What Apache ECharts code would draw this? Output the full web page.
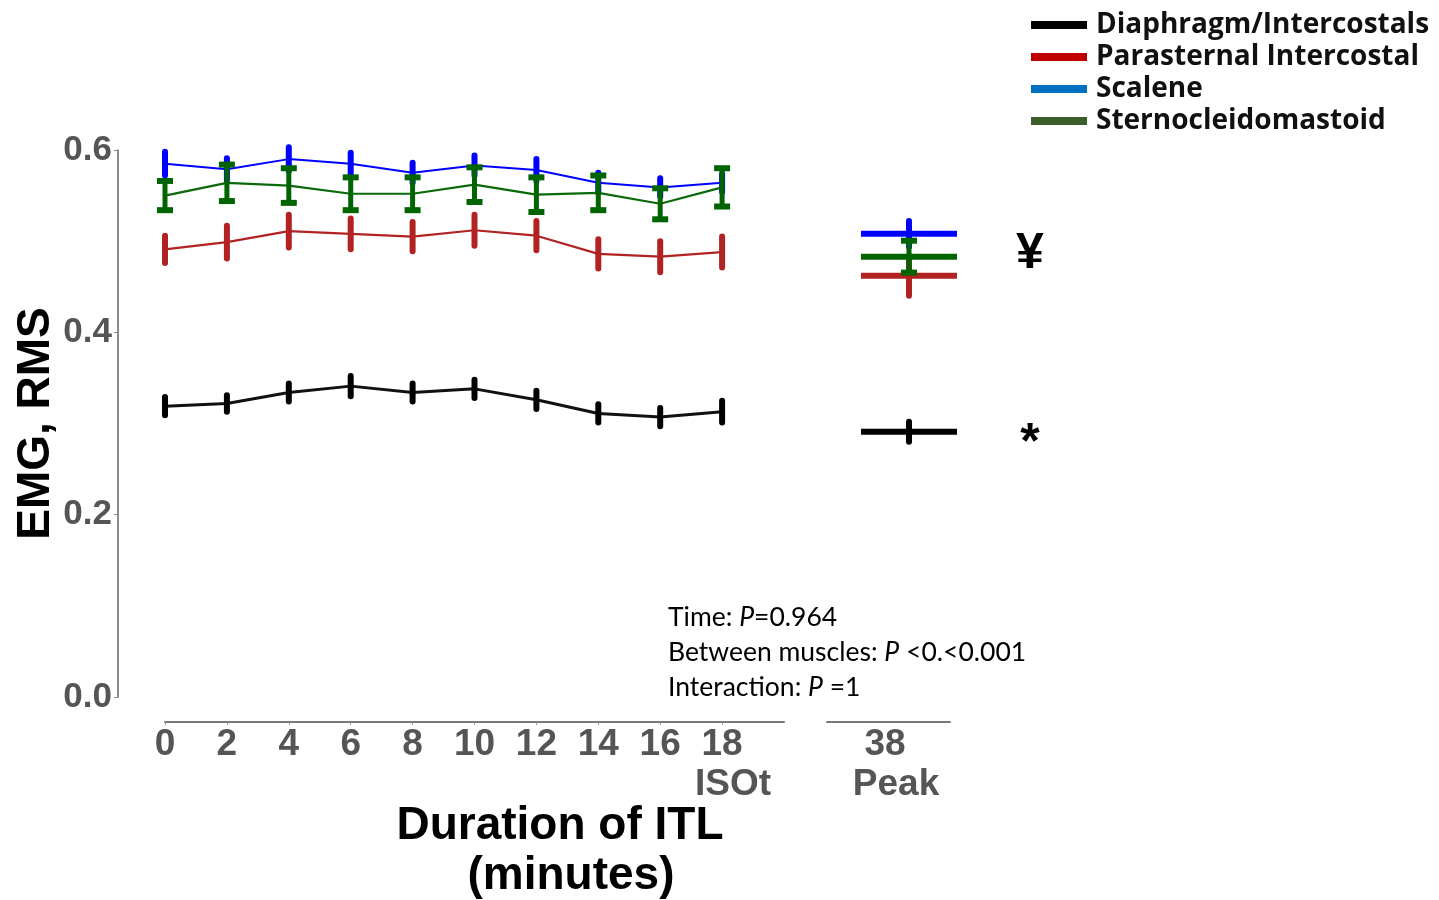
<!DOCTYPE html>
<html>
<head>
<meta charset="utf-8">
<script src="https://cdn.jsdelivr.net/npm/echarts@6/dist/echarts.min.js"></script>
<style>html,body{margin:0;padding:0;background:#fff}#c{width:1439px;height:900px}</style>
</head>
<body>
<div id="c"></div>
<script>
// ---- data ----
const timeMinutes = [0, 2, 4, 6, 8, 10, 12, 14, 16, 18];
const muscleNames = ['Diaphragm/Intercostals', 'Parasternal Intercostal', 'Scalene', 'Sternocleidomastoid'];
const diaphragm     = [0.319, 0.322, 0.334, 0.341, 0.334, 0.338, 0.326, 0.311, 0.307, 0.313];
const diaphragmSE   = [0.010, 0.009, 0.010, 0.011, 0.010, 0.010, 0.010, 0.010, 0.010, 0.012];
const parasternal   = [0.491, 0.499, 0.511, 0.508, 0.505, 0.512, 0.506, 0.486, 0.483, 0.488];
const parasternalSE = [0.015, 0.018, 0.018, 0.017, 0.016, 0.017, 0.016, 0.016, 0.017, 0.017];
const scalene       = [0.585, 0.579, 0.590, 0.585, 0.575, 0.583, 0.578, 0.564, 0.559, 0.564];
const scaleneSE     = [0.013, 0.012, 0.013, 0.012, 0.011, 0.011, 0.012, 0.011, 0.010, 0.010];
const sternocleido  = [0.550, 0.564, 0.561, 0.552, 0.552, 0.562, 0.551, 0.553, 0.541, 0.559];
const sternocleidoSE= [0.016, 0.020, 0.019, 0.018, 0.018, 0.019, 0.019, 0.019, 0.017, 0.021];
const isotMinute = 18;
const isotLabel = 'ISOt';
const peakMinute = 38;
const peakLabel = 'Peak';
const peakValues = [0.291, 0.462, 0.508, 0.483];
const peakSE     = [0.011, 0.022, 0.014, 0.0175];
const peakMarks  = ['*', '', '', '¥'];
const annotationLines = [
  ['Time: ', 'P', '=0.964'],
  ['Between muscles: ', 'P', ' <0.<0.001'],
  ['Interaction: ', 'P', ' =1']
];

// ---- styles ----
const lineColors = ['#111111', '#b22222', '#0000ff', '#0a690a'];
const barColors = ['#000000', '#b22222', '#0000ff', '#006400'];
const legendColors = ['#000000', '#c00000', '#0070c0', '#3b5e2b'];
const lineWidths = [3, 2.2, 2, 2.2];
const capHalf = [0, 0, 0, 8];
const means = [diaphragm, parasternal, scalene, sternocleido];
const ses = [diaphragmSE, parasternalSE, scaleneSE, sternocleidoSE];
const markOffsets = [13, 0, 0, -2];

function barChildren(top, bot, color, cap) {
  const ch = [{
    type: 'line',
    shape: { x1: top[0], y1: top[1], x2: bot[0], y2: bot[1] },
    style: { stroke: color, lineWidth: cap ? 5 : 6, lineCap: cap ? 'butt' : 'round' }
  }];
  if (cap) {
    [top, bot].forEach(p => ch.push({
      type: 'line',
      shape: { x1: p[0] - cap, y1: p[1], x2: p[0] + cap, y2: p[1] },
      style: { stroke: color, lineWidth: 6, lineCap: 'butt' }
    }));
  }
  return ch;
}

function errRender(idx) {
  return function (params, api) {
    const x = api.value(0), m = api.value(1), e = api.value(2);
    const top = api.coord([x, m + e]);
    const bot = api.coord([x, m - e]);
    return { type: 'group', children: barChildren(top, bot, barColors[idx], capHalf[idx]) };
  };
}

function peakRender(idx) {
  const color = barColors[idx];
  return function (params, api) {
    const x = api.value(0), m = api.value(1), e = api.value(2);
    const c = api.coord([x, m]);
    const top = api.coord([x, m + e]);
    const bot = api.coord([x, m - e]);
    const ch = [{
      type: 'line',
      shape: { x1: c[0] - 48, y1: c[1], x2: c[0] + 48, y2: c[1] },
      style: { stroke: color, lineWidth: 6 }
    }].concat(barChildren(top, bot, color, capHalf[idx]));
    if (peakMarks[idx]) {
      ch.push({
        type: 'text',
        style: {
          text: peakMarks[idx], x: c[0] + 121, y: c[1] + markOffsets[idx],
          align: 'center', verticalAlign: 'middle',
          font: 'bold 50px "Liberation Sans", Arial, sans-serif', fill: '#000'
        }
      });
    }
    return { type: 'group', children: ch };
  };
}

const series = [];
for (let i = 0; i < 4; i++) {
  series.push({
    name: muscleNames[i], type: 'line', xAxisIndex: 0, yAxisIndex: 0,
    data: timeMinutes.map((t, k) => [t, means[i][k]]),
    symbol: 'none', lineStyle: { color: lineColors[i], width: lineWidths[i] },
    itemStyle: { color: lineColors[i] }, z: 2 + i * 2, animation: false
  });
  series.push({
    name: muscleNames[i], type: 'custom', xAxisIndex: 0, yAxisIndex: 0,
    data: timeMinutes.map((t, k) => [t, means[i][k], ses[i][k]]),
    encode: { x: 0, y: 1 }, renderItem: errRender(i),
    z: 3 + i * 2, animation: false
  });
}
[1, 2, 3, 0].forEach(i => {
  series.push({
    name: muscleNames[i], type: 'custom', xAxisIndex: 1, yAxisIndex: 1,
    data: [[peakMinute, peakValues[i], peakSE[i]]],
    encode: { x: 0, y: 1 }, renderItem: peakRender(i), clip: false,
    z: 10 + i, animation: false
  });
});

const tickFont = { fontFamily: '"Liberation Sans", Arial, sans-serif', fontWeight: 'bold', fontSize: 37, color: '#555555', lineHeight: 40 };
const titleFont = { fontFamily: '"Liberation Sans", Arial, sans-serif', fontWeight: 'bold', fontSize: 46, color: '#000', lineHeight: 50 };

const option = {
  backgroundColor: '#ffffff',
  animation: false,
  grid: [
    { left: 165, top: 150, width: 619, height: 547 },
    { left: 827, top: 150, width: 123, height: 547 }
  ],
  legend: {
    orient: 'vertical', left: 1026, top: 6, itemWidth: 56, itemHeight: 8, itemGap: 4,
    icon: 'rect', selectedMode: false,
    textStyle: { fontFamily: '"Open Sans", Lato, sans-serif', fontWeight: 'bold', fontSize: 28, color: '#111', lineHeight: 28, padding: [0, 0, 0, 4] },
    data: muscleNames.map((n, i) => ({ name: n, icon: 'rect', itemStyle: { color: legendColors[i] } }))
  },
  xAxis: [
    {
      type: 'value', gridIndex: 0, position: 'bottom', min: 0, max: 20, interval: 2, offset: 25,
      splitLine: { show: false },
      axisLine: { onZero: false, lineStyle: { color: '#777', width: 2 } },
      axisTick: { show: true, length: 3, customValues: timeMinutes, lineStyle: { color: '#999' } },
      axisLabel: Object.assign({}, tickFont, {
        margin: 3, customValues: timeMinutes, hideOverlap: false, showMaxLabel: true, showMinLabel: true
      })
    },
    {
      type: 'value', gridIndex: 1, position: 'bottom', min: 34, max: 40, offset: 25,
      splitLine: { show: false },
      axisLine: { onZero: false, lineStyle: { color: '#777', width: 2 } },
      axisTick: { show: false },
      axisLabel: Object.assign({}, tickFont, {
        margin: 3, customValues: [peakMinute], hideOverlap: false, showMaxLabel: true, showMinLabel: true,
        formatter: v => '{a|' + v + '}\n{b|' + peakLabel + '}',
        rich: {
          a: Object.assign({}, tickFont, { padding: [0, 48, 0, 0] }),
          b: Object.assign({}, tickFont, { padding: [0, 26, 0, 0] })
        }
      })
    },
    {
      type: 'value', gridIndex: 0, position: 'bottom', min: 0, max: 20, offset: 25,
      splitLine: { show: false }, axisLine: { show: false, onZero: false }, axisTick: { show: false },
      axisLabel: Object.assign({}, tickFont, {
        margin: 43, customValues: [isotMinute], hideOverlap: false, showMaxLabel: true, showMinLabel: true,
        formatter: () => '{r|' + isotLabel + '}',
        rich: { r: Object.assign({}, tickFont, { padding: [0, 0, 0, 22] }) }
      })
    }
  ],
  yAxis: [
    {
      type: 'value', gridIndex: 0, min: 0, max: 0.6, interval: 0.2, offset: 47,
      name: 'EMG, RMS', nameLocation: 'middle', nameRotate: 90, nameGap: 58,
      nameTextStyle: { fontFamily: '"Liberation Sans", Arial, sans-serif', fontWeight: 'bold', fontSize: 46, color: '#000' },
      splitLine: { show: false },
      axisLine: { show: true, onZero: false, lineStyle: { color: '#666', width: 1.5 } },
      axisTick: { show: true, length: 4, lineStyle: { color: '#888' } },
      axisLabel: { fontFamily: '"Liberation Sans", Arial, sans-serif', fontWeight: 'bold', fontSize: 35, color: '#555', margin: 6, formatter: v => v.toFixed(1) }
    },
    { type: 'value', gridIndex: 1, min: 0, max: 0.6, show: false }
  ],
  graphic: [
    {
      type: 'text', x: 560, y: 801,
      style: {
        text: '{a|Duration of ITL}\n{b|(minutes)}', align: 'center', verticalAlign: 'top',
        rich: { a: titleFont, b: Object.assign({}, titleFont, { padding: [0, 0, 0, 22] }) }
      }
    },
    {
      type: 'text', x: 668, y: 600,
      style: {
        text: annotationLines.map(l => '{n|' + l[0] + '}{i|' + l[1] + '}{n|' + l[2] + '}').join('\n'),
        rich: {
          n: { fontFamily: 'Lato, "Open Sans", sans-serif', fontSize: 26.5, color: '#3a3a3a', lineHeight: 35 },
          i: { fontFamily: 'Lato, "Open Sans", sans-serif', fontSize: 26.5, fontStyle: 'italic', color: '#3a3a3a', lineHeight: 35 }
        }
      }
    }
  ],
  series: series
};

const chart = echarts.init(document.getElementById('c'), null, { renderer: 'canvas' });
chart.setOption(option);
</script>
</body>
</html>
